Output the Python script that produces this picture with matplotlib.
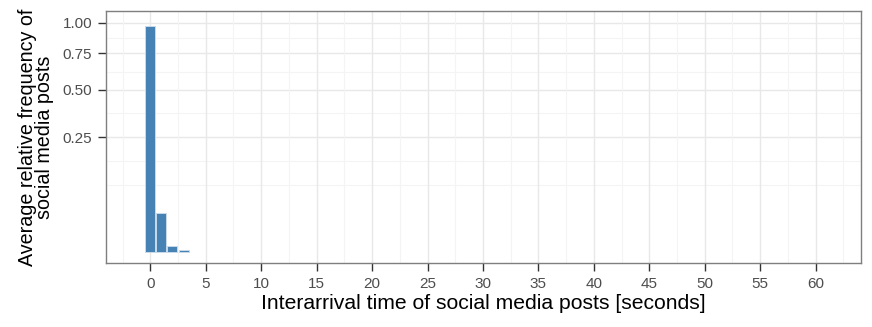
import numpy as np
import matplotlib
matplotlib.use('Agg')
import matplotlib.pyplot as plt

plt.rcParams['font.family'] = ['Liberation Sans', 'DejaVu Sans']

# interarrival time bins (seconds) and average relative frequency
seconds = [0, 1, 2, 3]
freq = [0.971, 0.029, 0.0005, 0.00003]

y_breaks = [0.25, 0.50, 0.75, 1.00]
y_labels = ['0.25', '0.50', '0.75', '1.00']
x_breaks = list(range(0, 61, 5))

fig = plt.figure(figsize=(8.72, 3.27), dpi=100)
ax = fig.add_axes([0.1215, 0.196, 0.866, 0.77])

# sqrt y scale: plot transformed values
sq_breaks = np.sqrt(y_breaks)
sq_minor = list((sq_breaks[1:] + sq_breaks[:-1]) / 2) + [sq_breaks[0] - (sq_breaks[1] - sq_breaks[0]) / 2,
                                                         sq_breaks[0] - (sq_breaks[1] - sq_breaks[0])]
for v in sq_minor:
    ax.axhline(v, color='#f4f4f4', lw=0.8, zorder=0)
for v in sq_breaks:
    ax.axhline(v, color='#e8e8e8', lw=1.0, zorder=0)
for v in np.arange(-2.5, 64, 5):
    ax.axvline(v, color='#f4f4f4', lw=0.8, zorder=0)
for v in x_breaks:
    ax.axvline(v, color='#e8e8e8', lw=1.0, zorder=0)

ax.bar(seconds, np.sqrt(freq), width=0.9, color='#4682B4', edgecolor='#c9d9ea', linewidth=0.7, zorder=2)

ax.set_xlim(-4, 64.1)
ax.set_ylim(-0.0496, 1.051)
ax.set_xticks(x_breaks)
ax.set_yticks(sq_breaks)
ax.set_yticklabels(y_labels)
ax.tick_params(axis='both', colors='#333333', labelcolor='#4d4d4d', labelsize=11, length=6, width=1, pad=4)

for s in ax.spines.values():
    s.set_color('#7f7f7f')
    s.set_linewidth(1)

ax.set_xlabel('Interarrival time of social media posts [seconds]', fontsize=15.2, labelpad=2)
ax.set_ylabel('Average relative frequency of\nsocial media posts', fontsize=14.2, labelpad=6, linespacing=0.9)

fig.savefig('out.png', dpi=100)
